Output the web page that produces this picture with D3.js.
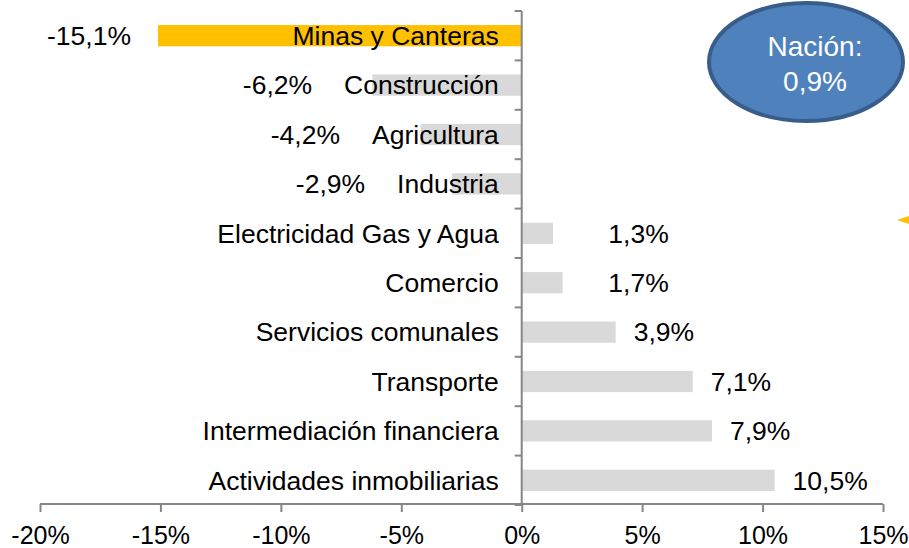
<!DOCTYPE html>
<html>
<head>
<meta charset="utf-8">
<style>
  body { margin: 0; background: #fff; }
  svg { display: block; font-family: "Liberation Sans", Arial, sans-serif; }
</style>
</head>
<body>
<svg width="909" height="548"></svg>
<script src="https://d3js.org/d3.v7.min.js"></script>
<script>

var sectors = ["Minas y Canteras", "Construcción", "Agricultura", "Industria",
               "Electricidad Gas y Agua", "Comercio", "Servicios comunales",
               "Transporte", "Intermediación financiera", "Actividades inmobiliarias"];
var growth = [-15.1, -6.2, -4.2, -2.9, 1.3, 1.7, 3.9, 7.1, 7.9, 10.5];
var xTicks = [-20, -15, -10, -5, 0, 5, 10, 15];
var nation = 0.9;

var svg = d3.select("svg");
var fs = 26.5;

var x = d3.scaleLinear().domain([-20, 15]).range([40, 883]);
var y = d3.scaleBand().domain(sectors).range([11, 505]).paddingInner(0.57).paddingOuter(0.285);

var fmt = function(v) { return d3.format(".1f")(v).replace("−", "-").replace(".", ",") + "%"; };
var data = sectors.map(function(s, i) { return {name: s, v: growth[i]}; });

// bars
svg.append("g").selectAll("rect")
  .data(data)
  .enter().append("rect")
    .attr("x", function(d) { return x(Math.min(0, d.v)); })
    .attr("y", function(d) { return y(d.name); })
    .attr("width", function(d) { return Math.abs(x(d.v) - x(0)); })
    .attr("height", y.bandwidth())
    .attr("fill", function(d, i) { return i === 0 ? "#FFC000" : "#D9D9D9"; });

// axes
var xAxis = svg.append("g")
    .attr("transform", "translate(0,504)")
    .call(d3.axisBottom(x).tickValues(xTicks).tickSize(8).tickPadding(14)
      .tickFormat(function(d) { return d + "%"; }));

var yAxis = svg.append("g")
    .attr("transform", "translate(" + x(0) + ",0)")
    .call(d3.axisLeft(y).tickSize(0).tickFormat(""));

// category boundary ticks on the vertical axis
var bounds = d3.range(sectors.length + 1).map(function(i) { return 11 + i * (494 / sectors.length); });
yAxis.selectAll(".bt").data(bounds).enter().append("line")
    .attr("x1", -7).attr("x2", 0)
    .attr("y1", function(d) { return d; }).attr("y2", function(d) { return d; });

svg.selectAll(".domain, .tick line, g line").attr("stroke", "#868686").attr("stroke-width", 2);
yAxis.select(".domain").attr("d", "M0,11V505");
xAxis.select(".domain").attr("d", "M40,0H883");
xAxis.selectAll("text").attr("font-size", 25).attr("fill", "#000")
    .attr("font-family", "Liberation Sans, Arial, sans-serif");

// category labels
var catLabels = svg.append("g").selectAll("text")
  .data(data)
  .enter().append("text")
    .attr("x", x(0) - 23)
    .attr("y", function(d) { return y(d.name) + y.bandwidth() / 2; })
    .attr("dy", "0.35em")
    .attr("text-anchor", "end")
    .attr("font-size", fs)
    .text(function(d) { return d.name; });

// value labels
var lefts = [];
catLabels.each(function() { lefts.push(this.getBBox().x); });

svg.append("g").selectAll("text")
  .data(data)
  .enter().append("text")
    .attr("x", function(d, i) {
      if (d.v >= 0) return x(Math.max(d.v, 2.85)) + 18;
      return Math.min(x(d.v) - 27, lefts[i] - 32);
    })
    .attr("y", function(d) { return y(d.name) + y.bandwidth() / 2; })
    .attr("dy", "0.35em")
    .attr("text-anchor", function(d) { return d.v >= 0 ? "start" : "end"; })
    .attr("font-size", fs)
    .text(function(d) { return fmt(d.v); });

// nation bubble
var bubble = svg.append("g").attr("transform", "translate(806,62)");
bubble.append("ellipse")
    .attr("rx", 97).attr("ry", 59)
    .attr("fill", "#4F81BD").attr("stroke", "#385D8A").attr("stroke-width", 4);
bubble.append("text").attr("x", 9).attr("y", -16).attr("dy", "0.35em").attr("text-anchor", "middle")
    .attr("font-size", 28).attr("fill", "#fff").text("Nación:");
bubble.append("text").attr("x", 9).attr("y", 19).attr("dy", "0.35em").attr("text-anchor", "middle")
    .attr("font-size", 28).attr("fill", "#fff").text(fmt(nation));

// small star, mostly outside the frame
var star = d3.symbol().type(d3.symbolStar).size(500);
svg.append("path").attr("d", star()).attr("fill", "#FFC000")
    .attr("transform", "translate(918,220) rotate(-18)");

</script>
</body>
</html>
